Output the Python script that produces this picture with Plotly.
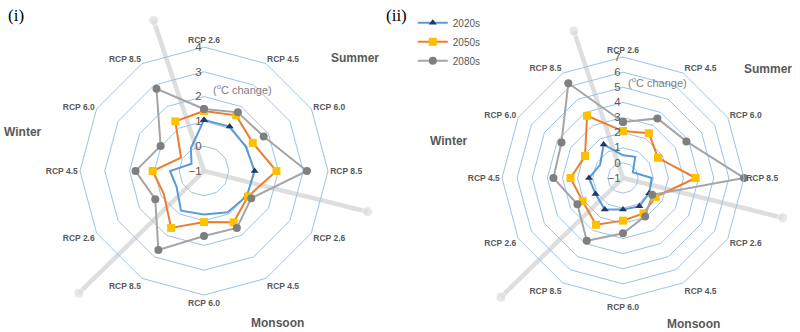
import math
import plotly.graph_objects as go

W, H = 800, 332

# ---------------- data ----------------
rcp_labels = ["RCP 2.6", "RCP 4.5", "RCP 6.0", "RCP 8.5"]
seasons = ["Summer", "Monsoon", "Winter"]
theta_keys = [f"{s} {c}" for s in seasons for c in rcp_labels]
tick_labels = rcp_labels * 3
series_names = ["2020s", "2050s", "2080s"]

# chart (i)
i_2020s = [1.06, 1.07, 0.95, 1.04, 1.00, 0.92, 0.75, 0.85, 0.28, 0.37, -0.42, 0.06]
i_2050s = [1.42, 1.59, 1.27, 1.92, 1.05, 1.39, 1.06, 1.65, 0.87, 1.07, 0.07, 1.31]
i_2080s = [1.50, 1.73, 1.78, 3.15, 1.20, 1.65, 1.62, 2.68, 1.27, 1.76, 1.02, 2.83]
i_ticks = [-1, 0, 1, 2, 3, 4]

# chart (ii)
ii_2020s = [0.50, 0.62, -0.25, 0.90, 1.00, 1.16, 1.09, 1.41, 1.10, 1.25, 0.75, 1.56]
ii_2050s = [2.10, 2.42, 1.67, 3.80, 1.50, 1.70, 1.82, 2.57, 2.08, 2.47, 1.90, 3.75]
ii_2080s = [2.70, 3.55, 3.84, 7.00, 1.23, 1.93, 2.65, 3.79, 2.48, 3.60, 3.70, 6.23]
ii_ticks = [-1, 0, 1, 2, 3, 4, 5, 6, 7]

# ---------------- styles ----------------
line_colors = ["#5B9BD5", "#ED7D31", "#A5A5A5"]
marker_colors = ["#1F3864", "#FFC000", "#7F7F7F"]
marker_symbols = ["triangle-up", "square", "circle"]
marker_sizes = [7, 8, 8]
MAJOR = "#9DC3E6"
MINOR = "#E6E6E6"
TXT = "#595959"
FONT = "Liberation Sans, Arial, sans-serif"

# chart geometry (pixels)
charts = [
    dict(cx=204, cy=171, R=124, ticks=i_ticks, data=[i_2020s, i_2050s, i_2080s],
         minor="polar", major="polar2", legend=False),
    dict(cx=623, cy=178, R=121, ticks=ii_ticks, data=[ii_2020s, ii_2050s, ii_2080s],
         minor="polar3", major="polar4", legend=True),
]
SEP_ANGLES = [341.5, 104, 225.7]
SEP_LEN = [1.28, 1.36, 1.41]


def domain(c):
    x = [(c["cx"] - c["R"]) / W, (c["cx"] + c["R"]) / W]
    yc = H - c["cy"]
    y = [(yc - c["R"]) / H, (yc + c["R"]) / H]
    return dict(x=x, y=y)


fig = go.Figure()

# separators (hidden cartesian pixel axes, drawn beneath polar layers)
for c in charts:
    for a, L in zip(SEP_ANGLES, SEP_LEN):
        rr = L * c["R"]
        x1 = c["cx"] + rr * math.sin(math.radians(a))
        y1 = c["cy"] - rr * math.cos(math.radians(a))
        fig.add_trace(go.Scatter(
            x=[c["cx"], x1], y=[c["cy"], y1], mode="lines+markers",
            line=dict(color="#DEDEDE", width=4.5),
            marker=dict(size=[0, 10], color="#DEDEDE"),
            showlegend=False, hoverinfo="skip"))

# data traces
for c in charts:
    for k, vals in enumerate(c["data"]):
        fig.add_trace(go.Scatterpolar(
            r=vals + vals[:1], theta=theta_keys + theta_keys[:1],
            subplot=c["major"], mode="lines+markers", name=series_names[k],
            line=dict(color=line_colors[k], width=2),
            marker=dict(symbol=marker_symbols[k], size=marker_sizes[k],
                        color=marker_colors[k]),
            showlegend=c["legend"]))

layout_polars = {}
for c in charts:
    d = domain(c)
    rng = [c["ticks"][0], c["ticks"][-1]]
    layout_polars[c["minor"]] = dict(
        domain=d, bgcolor="rgba(0,0,0,0)", gridshape="linear",
        radialaxis=dict(range=rng, dtick=0.5, tick0=-1, showticklabels=False,
                        showline=False, ticks="", gridcolor=MINOR, gridwidth=1),
        angularaxis=dict(type="category", categoryarray=theta_keys, categoryorder="array",
                         rotation=90, direction="clockwise", showgrid=False,
                         showline=False, showticklabels=False, ticks=""))
    layout_polars[c["major"]] = dict(
        domain=d, bgcolor="rgba(0,0,0,0)", gridshape="linear",
        radialaxis=dict(range=rng, tickvals=c["ticks"], angle=90, tickangle=90,
                        side="counterclockwise", showline=False, ticks="",
                        gridcolor=MAJOR, gridwidth=1,
                        tickfont=dict(size=11.5, color=TXT, family=FONT)),
        angularaxis=dict(type="category", categoryarray=theta_keys, categoryorder="array",
                         tickmode="array", tickvals=theta_keys, ticktext=tick_labels,
                         rotation=90, direction="clockwise", showgrid=False,
                         showline=True, linecolor=MAJOR, linewidth=1, ticks="",
                         tickfont=dict(size=8.5, color=TXT, family=FONT, weight="bold")))


def ann(text, x, y, size, color=TXT, family=FONT, weight="normal"):
    return dict(text=text, x=x / W, y=1 - y / H, xref="paper", yref="paper",
                showarrow=False, xanchor="center", yanchor="middle",
                font=dict(size=size, color=color, family=family, weight=weight))


annotations = [
    ann("(i)", 16, 15, 17, color="#000000", family="Liberation Serif, Times New Roman, serif"),
    ann("(ii)", 396, 15, 17, color="#000000", family="Liberation Serif, Times New Roman, serif"),
    ann("Summer", 355, 58, 12, weight="bold"),
    ann("Winter", 23, 132, 12, weight="bold"),
    ann("Monsoon", 277, 323, 12, weight="bold"),
    ann("Summer", 768, 69, 12, weight="bold"),
    ann("Winter", 449, 141, 12, weight="bold"),
    ann("Monsoon", 693, 324, 12, weight="bold"),
    ann("(<sup>o</sup>C change)", 242, 89, 11, color="#7F7F7F"),
    ann("(<sup>o</sup>C change)", 657, 82, 11, color="#7F7F7F"),
]

fig.update_layout(
    width=W, height=H, margin=dict(l=0, r=0, t=0, b=0),
    paper_bgcolor="white", plot_bgcolor="rgba(0,0,0,0)",
    xaxis=dict(range=[0, W], visible=False, domain=[0, 1], fixedrange=True),
    yaxis=dict(range=[H, 0], visible=False, domain=[0, 1], fixedrange=True),
    showlegend=True,
    legend=dict(x=0.516, y=0.975, xanchor="left", yanchor="top",
                font=dict(size=10, color=TXT, family=FONT),
                bgcolor="rgba(0,0,0,0)", itemwidth=30, tracegroupgap=0),
    annotations=annotations,
    **layout_polars,
)

fig.write_html("out.html", config={"displayModeBar": False},
               post_script="document.body.style.margin='0';")
